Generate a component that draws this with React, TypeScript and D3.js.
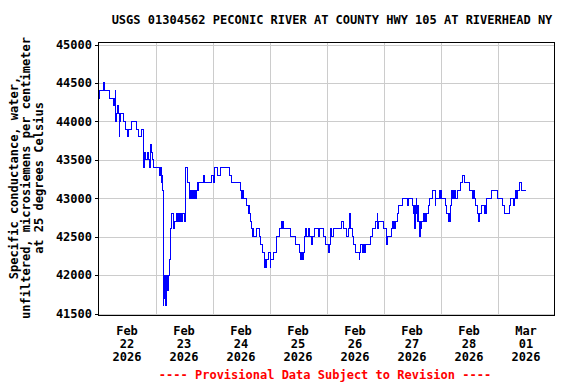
import React from "react";
import * as d3 from "d3";

// Hours since Feb 22 2026 00:00 at which the recorded value changes (step series)
const hours: number[] = [
  0, 0.3, 2.1, 2.5, 4.6, 6.2, 6.35, 6.5, 6.65, 6.8, 7.0, 7.3, 7.45, 7.6, 7.75, 7.9, 8.3, 8.7, 8.9, 9.2,
  10.7, 11.5, 12.1, 12.3, 12.45, 12.6, 13.8, 16.0, 16.8, 18.3, 18.9, 19.1, 19.25, 19.4, 19.55, 19.7,
  20.6, 21.1, 21.4, 21.8, 22.2, 22.8, 23.0, 23.15, 23.3,
  25.8, 25.95, 26.1, 26.3, 26.5, 26.7, 26.9, 27.2, 27.35, 27.5, 27.65, 27.8, 28.0, 28.2, 28.4, 28.55,
  28.7, 28.85, 29.0, 29.15, 29.3, 29.8, 30.3, 30.6, 31.7, 31.9, 32.8, 33.4, 33.6, 33.8, 34.1, 34.4,
  34.7, 35.0, 35.3, 36.4, 36.8, 37.3, 37.6, 38.2, 38.4, 38.6, 38.8, 39.0, 39.2, 39.4, 39.7, 40.2, 40.5,
  41.0, 41.2, 41.6, 41.8, 42.1, 44.1, 44.5, 47.6, 48.6, 48.8, 49.0, 50.1, 51.4, 55.1, 56.2,
  59.6, 60.4, 60.6, 60.8, 61.0, 61.2, 62.4, 63.0, 63.2, 63.4, 63.8, 64.5, 64.9, 65.1, 65.3, 66.4, 67.8,
  68.1, 69.0, 70.0, 70.2, 70.4, 70.6, 71.6, 72.3, 72.6, 73.7, 75.1, 76.1, 77.2, 77.5, 77.7, 77.9, 81.0,
  82.9, 84.6, 85.0, 85.2, 85.5, 85.8, 86.1, 86.4, 86.7, 87.0, 87.5, 88.4, 88.9, 89.8, 90.1, 90.9, 92.8,
  93.2, 94.6, 95.7, 96.8, 97.4, 97.7, 98.2, 98.8, 102.4, 103.3, 104.6, 105.2, 105.8, 106.3, 106.9,
  107.4, 108.3, 109.8, 110.0, 110.2, 111.1, 111.3, 111.5, 111.8, 112.0, 112.5, 114.4, 115.3, 116.6,
  117.3, 117.5, 118.0, 120.0, 121.4, 121.6, 123.3, 123.9, 124.2, 124.4, 124.6, 124.9, 125.9, 126.4,
  127.8, 130.0, 130.2, 130.4, 130.6, 132.3, 132.5, 132.8, 133.2, 133.4, 133.7, 134.0, 134.2, 134.4,
  134.6, 134.8, 135.2, 135.4, 135.6, 135.9, 137.0, 137.2, 137.4, 137.8, 138.2, 139.0, 139.5, 140.8,
  141.9, 142.1, 143.6, 143.8, 144.0, 144.2, 144.4, 144.6, 146.1, 146.7, 147.2, 147.4, 147.6, 148.0,
  148.6, 149.2, 149.4, 149.6, 149.7, 150.3, 151.1, 152.5, 153.3, 154.2, 156.4, 157.3, 157.5, 157.7,
  158.0, 158.2, 158.6, 159.5, 160.0, 160.3, 161.2, 162.6, 162.8, 163.0, 163.4, 165.3, 167.9, 170.1,
  171.0, 172.9, 173.5, 174.8, 175.1, 175.7, 175.9, 176.1, 176.3, 176.5, 177.1, 178.2, 180.0,
];

// Specific conductance, µS/cm at 25 °C
const conductance: number[] = [
  44300, 44400, 44500, 44400, 44300, 44200, 44300, 44200, 44300, 44200, 44400, 44000, 44100, 44000, 44100, 44200, 44100, 43800, 44000, 44100,
  44000, 43900, 43800, 43900, 43800, 43900, 44000, 43900, 43800, 43900, 43800, 43400, 43600, 43400, 43600, 43500,
  43600, 43500, 43400, 43700, 43600, 43500, 43400, 43500, 43400,
  43300, 43400, 43300, 43400, 43200, 43300, 43100, 41600, 41900, 41700, 42000, 41800, 41900, 42000, 41600, 41900,
  42000, 41800, 42000, 41800, 42000, 42200, 42600, 42800, 42600, 42700, 42800, 42700, 42800, 42700, 42800, 42700,
  42800, 42700, 42800, 42700, 43400, 43300, 43200, 43000, 43100, 43000, 43100, 43000, 43100, 43000, 43100, 43000, 43100,
  43000, 43100, 43200, 43100, 43200, 43300, 43200, 43300, 43200, 43300, 43400, 43300, 43400, 43300, 43200,
  43100, 43000, 43100, 43000, 43100, 43000, 42900, 42800, 42900, 42800, 42700, 42600, 42500, 42600, 42500, 42600, 42500,
  42400, 42300, 42100, 42200, 42100, 42200, 42300, 42100, 42200, 42300, 42500, 42600, 42700, 42600, 42700, 42600, 42500,
  42400, 42300, 42200, 42300, 42200, 42300, 42200, 42300, 42500, 42600, 42500, 42600, 42500, 42400, 42500, 42600, 42500,
  42600, 42500, 42400, 42300, 42400, 42600, 42500, 42600, 42700, 42600, 42500, 42600, 42800, 42600, 42500,
  42400, 42300, 42200, 42300, 42400, 42300, 42400, 42300, 42400, 42300, 42400, 42500, 42600, 42700,
  42800, 42600, 42700, 42600, 42400, 42500, 42600, 42700, 42600, 42700, 42600, 42700, 42800, 42900,
  43000, 42900, 43000, 42900, 43000, 42900, 42800, 42900, 42600, 42900, 43000, 42800, 42900, 42700,
  42900, 42700, 42500, 42700, 42600, 42700, 42800, 42700, 42800, 42700, 42800, 42900, 43000, 43100,
  42900, 43000, 43100, 43000, 43100, 43000, 43100, 43000, 42900, 42800, 42700, 42800, 42700, 42900,
  43100, 43000, 43100, 43000, 43100, 43000, 43100, 43200, 43300, 43200, 43100, 43000, 43100, 43000,
  43100, 43000, 42900, 42800, 42700, 42800, 42900, 42800, 42900, 42800, 43000, 43100, 43000, 42900,
  42800, 42900, 43000, 42900, 43000, 43100, 43000, 43100, 43000, 43100, 43200, 43100, 43100,
];

const yTicks: number[] = [41500, 42000, 42500, 43000, 43500, 44000, 44500, 45000];
const tickMonths: string[] = ["Feb", "Feb", "Feb", "Feb", "Feb", "Feb", "Feb", "Mar"];
const tickDays: string[] = ["22", "23", "24", "25", "26", "27", "28", "01"];
const tickYears: string[] = ["2026", "2026", "2026", "2026", "2026", "2026", "2026", "2026"];

const titleText = "USGS 01304562 PECONIC RIVER AT COUNTY HWY 105 AT RIVERHEAD NY";
const yLabelLines: string[] = [
  "Specific conductance, water,",
  "unfiltered, microsiemens per centimeter",
  "at 25 degrees Celsius",
];
const footerText = "---- Provisional Data Subject to Revision ----";

const FONT = "'DejaVu Sans Mono', 'Liberation Mono', monospace";

export default function App() {
  const start = new Date(2026, 1, 22, 0, 0, 0);
  const end = new Date(2026, 2, 2, 0, 0, 0);
  const left = 98.5;
  const right = 554.5;
  const top = 42.5;
  const bottom = 315.5;

  const x = d3.scaleTime().domain([start, end]).range([left, right]);
  const y = d3.scaleLinear().domain([41500, 45000]).range([313.5, 44.5]);

  const data = hours.map((h, i) => ({
    t: new Date(start.getTime() + h * 3600 * 1000),
    v: conductance[i],
  }));

  const line = d3
    .line<{ t: Date; v: number }>()
    .x((d) => x(d.t))
    .y((d) => y(d.v))
    .curve(d3.curveStepAfter);

  const dayLines = d3.timeDay.range(start, d3.timeDay.offset(end, 1)).filter((d) => d > start && d < end);
  const labelDays = d3.timeDay.range(start, end);

  const fs = 12;

  return (
    <svg
      width={576}
      height={384}
      style={{ position: "absolute", left: 0, top: 0, display: "block", background: "#fff" }}
    >
      <rect x={0} y={0} width={576} height={384} fill="#fff" />
      {/* grid */}
      {yTicks.map((t) => (
        <line
          key={"gy" + t}
          x1={left}
          x2={right}
          y1={Math.round(y(t)) + 0.5}
          y2={Math.round(y(t)) + 0.5}
          stroke="#cccccc"
          strokeWidth={1}
          shapeRendering="crispEdges"
        />
      ))}
      {dayLines.map((d, i) => (
        <line
          key={"gx" + i}
          x1={Math.round(x(d)) + 0.5}
          x2={Math.round(x(d)) + 0.5}
          y1={top}
          y2={bottom}
          stroke="#cccccc"
          strokeWidth={1}
          shapeRendering="crispEdges"
        />
      ))}
      {/* data */}
      <path d={line(data) || ""} fill="none" stroke="#0000ff" strokeWidth={1} shapeRendering="crispEdges" />
      {/* frame */}
      <rect
        x={left}
        y={top}
        width={right - left}
        height={bottom - top}
        fill="none"
        stroke="#000"
        strokeWidth={1}
        shapeRendering="crispEdges"
      />
      {/* y ticks and labels */}
      {yTicks.map((t) => (
        <g key={"ty" + t}>
          <line
            x1={left - 4}
            x2={left}
            y1={Math.round(y(t)) + 0.5}
            y2={Math.round(y(t)) + 0.5}
            stroke="#000"
            shapeRendering="crispEdges"
          />
          <text
            x={92}
            y={y(t) + 4.3}
            textAnchor="end"
            fontFamily={FONT}
            fontWeight="bold"
            fontSize={fs}
            fill="#000"
          >
            {t}
          </text>
        </g>
      ))}
      {/* x labels */}
      {labelDays.map((d, i) => {
        const cx = x(d3.timeHour.offset(d, 12));
        return (
          <g key={"tx" + i} fontFamily={FONT} fontWeight="bold" fontSize={fs} fill="#000" textAnchor="middle">
            <text x={cx} y={334.5}>{tickMonths[i]}</text>
            <text x={cx} y={347.5}>{tickDays[i]}</text>
            <text x={cx} y={360.5}>{tickYears[i]}</text>
          </g>
        );
      })}
      {/* title */}
      <text x={332} y={23.5} textAnchor="middle" fontFamily={FONT} fontWeight="bold" fontSize={fs} fill="#000">
        {titleText}
      </text>
      {/* y axis label */}
      {yLabelLines.map((s, i) => (
        <text
          key={"yl" + i}
          transform={`translate(${17.5 + i * 12.7},178) rotate(-90)`}
          textAnchor="middle"
          fontFamily={FONT}
          fontWeight="bold"
          fontSize={fs}
          fill="#000"
        >
          {s}
        </text>
      ))}
      {/* footer */}
      <text x={325} y={379} textAnchor="middle" fontFamily={FONT} fontWeight="bold" fontSize={fs} fill="#ff0000">
        {footerText}
      </text>
    </svg>
  );
}
